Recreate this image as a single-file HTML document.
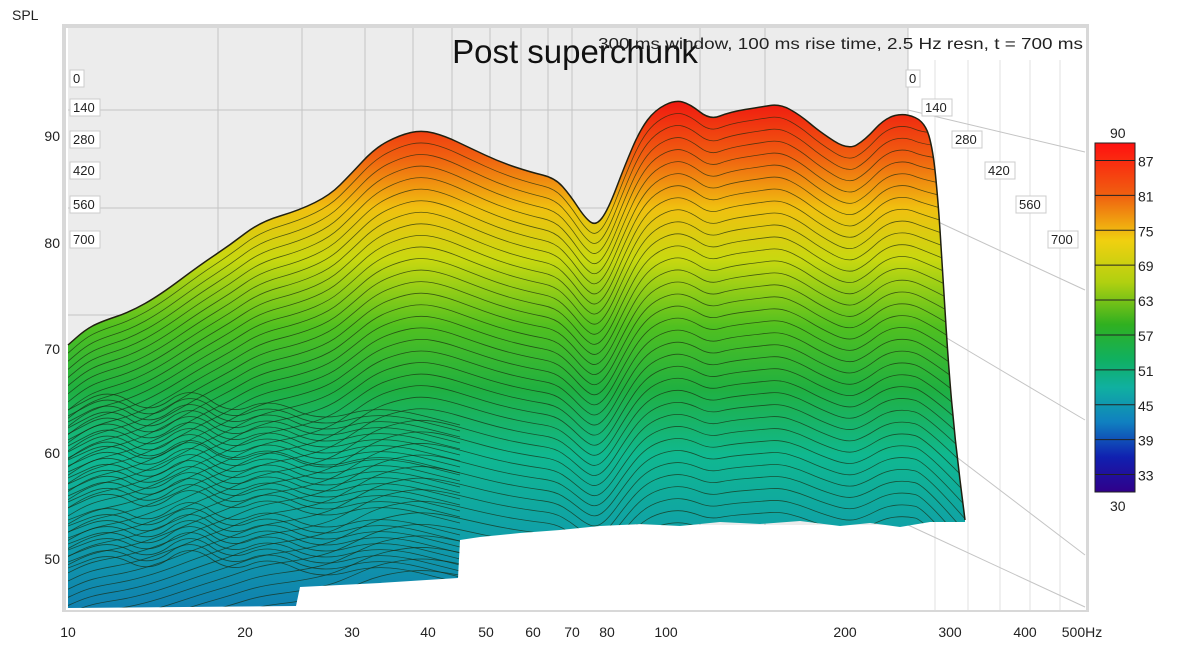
<!DOCTYPE html>
<html><head><style>
html,body{margin:0;padding:0;background:#fff;width:1200px;height:647px;overflow:hidden;font-family:"Liberation Sans",sans-serif}
svg{display:block}
svg text{font-family:"Liberation Sans",sans-serif}
</style></head><body>
<svg id="s" width="1200" height="647" xmlns="http://www.w3.org/2000/svg">
<defs>
<linearGradient id="g" gradientUnits="userSpaceOnUse" x1="0" y1="95" x2="0" y2="610">
<stop offset="0" stop-color="#f01010"/>
<stop offset="0.12" stop-color="#f06010"/>
<stop offset="0.22" stop-color="#f0c010"/>
<stop offset="0.32" stop-color="#c8d810"/>
<stop offset="0.45" stop-color="#50c020"/>
<stop offset="0.57" stop-color="#20b040"/>
<stop offset="0.70" stop-color="#10b890"/>
<stop offset="0.85" stop-color="#10a0a8"/>
<stop offset="1" stop-color="#1080b0"/>
</linearGradient>
<linearGradient id="cb" gradientUnits="userSpaceOnUse" x1="0" y1="143" x2="0" y2="492">
<stop offset="0" stop-color="#ff1010"/>
<stop offset="0.15" stop-color="#f06010"/>
<stop offset="0.28" stop-color="#f0d010"/>
<stop offset="0.40" stop-color="#b0d010"/>
<stop offset="0.52" stop-color="#30b020"/>
<stop offset="0.62" stop-color="#10b060"/>
<stop offset="0.70" stop-color="#10b0a0"/>
<stop offset="0.80" stop-color="#1080c0"/>
<stop offset="0.90" stop-color="#1020b0"/>
<stop offset="1" stop-color="#30008a"/>
</linearGradient>
<clipPath id="cp"><path id="cpp"/></clipPath>
</defs>
<rect x="62" y="24" width="1027" height="588" fill="#d8d8d8"/>
<rect x="66" y="28" width="1020" height="582" fill="#fff"/>
<rect x="68" y="28" width="840" height="497" fill="#ececec"/>
<g id="grid" stroke="#c4c4c4" stroke-width="1" fill="none"></g>
<path id="surf" fill="url(#g)"/>
<g id="cont" clip-path="url(#cp)" stroke="#1a2a10" stroke-opacity="0.7" stroke-width="0.8" fill="none"></g>
<path id="edge" fill="none" stroke="#202010" stroke-width="1.5"/>
<text x="12" y="20" font-size="14" fill="#222">SPL</text>
<g font-size="14" fill="#222" text-anchor="end">
<text x="60" y="141">90</text><text x="60" y="248">80</text><text x="60" y="354">70</text><text x="60" y="458">60</text><text x="60" y="564">50</text>
</g>
<g font-size="14" fill="#222" text-anchor="middle">
<text x="68" y="637">10</text><text x="245" y="637">20</text><text x="352" y="637">30</text><text x="428" y="637">40</text><text x="486" y="637">50</text><text x="533" y="637">60</text><text x="572" y="637">70</text><text x="607" y="637">80</text><text x="666" y="637">100</text><text x="845" y="637">200</text><text x="950" y="637">300</text><text x="1025" y="637">400</text><text x="1082" y="637">500Hz</text>
</g>
<text x="575" y="63" font-size="33" fill="#111" text-anchor="middle">Post superchunk</text>
<text x="598" y="49" font-size="16" fill="#222" textLength="485" lengthAdjust="spacingAndGlyphs">300 ms window, 100 ms rise time,  2.5 Hz resn, t = 700 ms</text>
<g id="tl" font-size="13" fill="#222"></g>
<g id="cbg"><rect x="1095" y="143" width="40" height="349" fill="url(#cb)" stroke="#222"/></g>
<g id="cbl" font-size="14" fill="#222"></g>
</svg>
<script>
(function(){
const NS="http://www.w3.org/2000/svg";
function el(t,a,p){const e=document.createElementNS(NS,t);for(const k in a)e.setAttribute(k,a[k]);p.appendChild(e);return e;}
const grid=document.getElementById('grid');
[218,302,365,413,452,490,521,548,572,637,700,765].forEach(x=>el('line',{x1:x,y1:28,x2:x,y2:525},grid));
[110,208,315].forEach(y=>el('line',{x1:68,y1:y,x2:908,y2:y},grid));
[[908,110,1085,152],[908,208,1085,290],[908,315,1085,420],[908,420,1085,555],[908,525,1085,607]].forEach(l=>el('line',{x1:l[0],y1:l[1],x2:l[2],y2:l[3]},grid));
[935,968,1000,1030,1060].forEach(x=>el('line',{x1:x,y1:60,x2:x,y2:610,'stroke-opacity':0.5},grid));
el('line',{x1:908,y1:28,x2:908,y2:525},grid);
const topE=[[68,345],[85,330],[100,322],[130,312],[160,295],[200,265],[230,245],[260,222],[300,210],[330,195],[350,175],[375,148],[400,135],[422,130],[445,136],[470,148],[500,162],[530,172],[555,178],[570,195],[585,218],[596,226],[608,210],[625,165],[640,130],[655,110],[675,100],[690,104],[710,120],[730,112],[760,107],[780,104],[800,115],[820,132],[848,150],[865,140],[885,118],[905,113],[925,122],[933,150],[938,200],[942,260],[948,360],[955,440],[965,520]];
const bot=[[965,522],[930,522],[900,527],[870,523],[840,526],[800,521],[760,524],[720,522],[680,526],[640,524],[600,526],[560,530],[520,533],[480,537],[460,540],[458,578],[380,583],[300,587],[296,606],[68,608]];
function sm(pts){let d="M"+pts[0][0]+","+pts[0][1];for(let i=1;i<pts.length;i++){const p=pts[i-1],q=pts[i];const mx=(p[0]+q[0])/2,my=(p[1]+q[1])/2;d+=" Q"+p[0]+","+p[1]+" "+mx+","+my;}d+=" L"+pts[pts.length-1][0]+","+pts[pts.length-1][1];return d;}
const d=sm(topE)+" "+bot.map(p=>"L"+p[0]+","+p[1]).join(" ")+" Z";
document.getElementById('surf').setAttribute('d',d);
document.getElementById('cpp').setAttribute('d',d);
document.getElementById('edge').setAttribute('d',sm(topE));
const cont=document.getElementById('cont');
for(let i=1;i<50;i++){
  const off=i*9.5;const amp=Math.max(0.2,1-i*0.016);
  const pts2=topE.filter(p=>p[0]<932).map(p=>{const mean=260;return [p[0],mean+(p[1]-mean)*amp+off];});
  pts2.push([1000,pts2[pts2.length-1][1]+off*0.3]);
  el('path',{d:sm(pts2)},cont);
}
[[68,410],[68,460],[68,520]].forEach((s,k)=>{for(let j=0;j<9;j++){const y0=s[1]+j*6;const pts=[[68,y0],[110,y0-22+k*3],[150,y0+5],[190,y0-25],[230,y0+5],[270,y0-12],[320,y0+12],[380,y0-5],[460,y0+15]];el('path',{d:sm(pts)},cont);}});
const tl=document.getElementById('tl');
function box(x,y,t){const w=t.length*8+6;el('rect',{x:x,y:y-12,width:w,height:17,fill:'#fff',stroke:'#ccc'},tl);const e=el('text',{x:x+3,y:y+1},tl);e.textContent=t;}
[[70,82,'0'],[70,111,'140'],[70,143,'280'],[70,174,'420'],[70,208,'560'],[70,243,'700'],[906,82,'0'],[922,111,'140'],[952,143,'280'],[985,174,'420'],[1016,208,'560'],[1048,243,'700']].forEach(b=>box(b[0],b[1],b[2]));
const cbl=document.getElementById('cbl');
const cbg=document.getElementById('cbg');
[87,81,75,69,63,57,51,45,39,33].forEach(v=>{const y=143+(90-v)*349/60;el('line',{x1:1095,y1:y,x2:1135,y2:y,stroke:'#222'},cbg);const t=el('text',{x:1138,y:y+6},cbl);t.textContent=v;});
let t=el('text',{x:1110,y:138},cbl);t.textContent='90';
t=el('text',{x:1110,y:511},cbl);t.textContent='30';
})();
</script>
</body></html>
